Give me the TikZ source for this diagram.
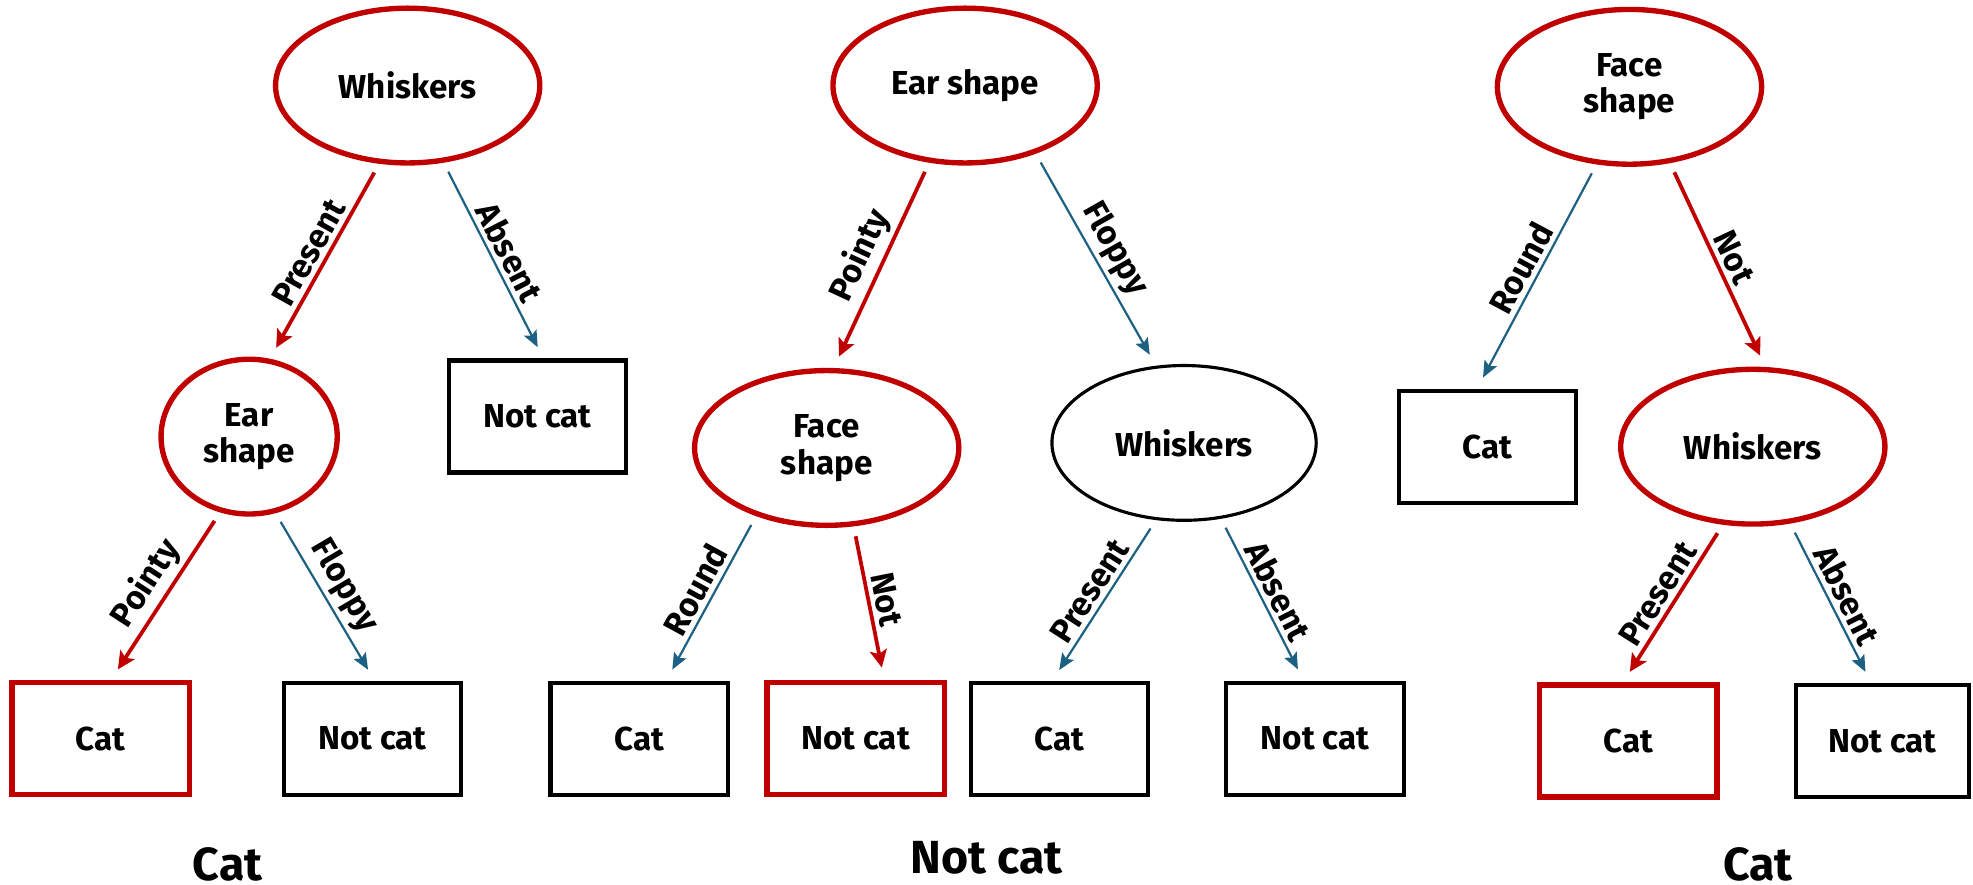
\documentclass[tikz,border=0pt]{standalone}
\usepackage{fontspec}
\setmainfont{Fira Sans}
\usetikzlibrary{arrows.meta,shapes.geometric}

\definecolor{treered}{RGB}{192,0,0}
\definecolor{treeblue}{RGB}{28,96,130}

\begin{document}
\begin{tikzpicture}[
  x=0.2mm, y=-0.2mm,
  every node/.style={font=\fontsize{15}{16.5}\selectfont\bfseries},
  split/.style={draw, ellipse, line width=0.5mm, minimum width=42mm, minimum height=24.6mm, align=center, inner sep=1pt},
  leaf/.style={draw, rectangle, line width=0.65mm, minimum width=28.2mm, minimum height=17.8mm, align=center},
  hit/.style={draw=treered, line width=0.85mm},
  result/.style={font=\fontsize{21}{24}\selectfont\bfseries, inner sep=0pt},
  lab/.style={sloped, above, text=black, inner sep=2pt},
  redarrow/.style={-{Stealth[length=2.8mm, width=2.7mm, inset=0.6mm]}, color=treered, line width=0.6mm, shorten <=1.6mm, shorten >=2mm},
  bluearrow/.style={-{Stealth[length=2.6mm, width=2.2mm, inset=0.5mm]}, color=treeblue, line width=0.35mm, shorten <=1.6mm, shorten >=2mm}
]
\useasboundingbox (0,0) rectangle (1568,703);

\node[split, hit] (w1) at (324,68) {Whiskers};
\node[split, hit, minimum width=28mm] (e1) at (198,347) {Ear\\shape};
\node[leaf] (n1) at (427,331) {Not cat};
\node[leaf, hit] (c1) at (80,587) {Cat};
\node[leaf] (n2) at (296,587) {Not cat};
\node[result] (r1) at (181,687) {Cat};

\node[split, hit] (e2) at (767,68) {Ear shape};
\node[split, hit] (f2) at (657,356) {Face\\shape};
\node[split] (w2) at (941,352) {Whiskers};
\node[leaf] (c2) at (508,587) {Cat};
\node[leaf, hit] (n3) at (680,587) {Not cat};
\node[leaf] (c3) at (842,587) {Cat};
\node[leaf] (n4) at (1045,587) {Not cat};
\node[result] (r2) at (784,682) {Not cat};

\node[split, hit] (f3) at (1295,69) {Face\\shape};
\node[leaf] (c4) at (1182,355) {Cat};
\node[split, hit] (w3) at (1393,355) {Whiskers};
\node[leaf, hit] (c5) at (1294,589) {Cat};
\node[leaf, minimum width=27.4mm] (n5) at (1496,589) {Not cat};
\node[result] (r3) at (1397,687) {Cat};

\draw[redarrow]  (w1.-110.5) -- node[lab] {Present} (e1.75);
\draw[bluearrow] (w1.-65) -- node[lab] {Absent} (n1.84);
\draw[redarrow]  (e1.-111) -- node[lab] {Pointy} (c1.80);
\draw[bluearrow] (e1.-71) -- node[lab] {Floppy} (n2.88);

\draw[redarrow]  (e2.-115) -- node[lab] {Pointy} (f2.85);
\draw[bluearrow] (e2.-44.5) -- node[lab] {Floppy} (w2.110);
\draw[bluearrow] (f2.-136.5) -- node[lab] {Round} (c2.65);
\draw[redarrow]  (f2.-71.5) -- node[lab] {Not} (n3.64);
\draw[bluearrow] (w2.-110.5) -- node[lab] {Present} (c3.97);
\draw[bluearrow] (w2.-64.5) -- node[lab] {Absent} (n4.101);

\draw[bluearrow] (f3.-113) -- node[lab] {Round} (c4.100);
\draw[redarrow]  (f3.-62) -- node[lab] {Not} (w3.81);
\draw[redarrow]  (w3.-111) -- node[lab] {Present} (c5.95);
\draw[bluearrow] (w3.-64.5) -- node[lab] {Absent} (n5.101);
\end{tikzpicture}
\end{document}
